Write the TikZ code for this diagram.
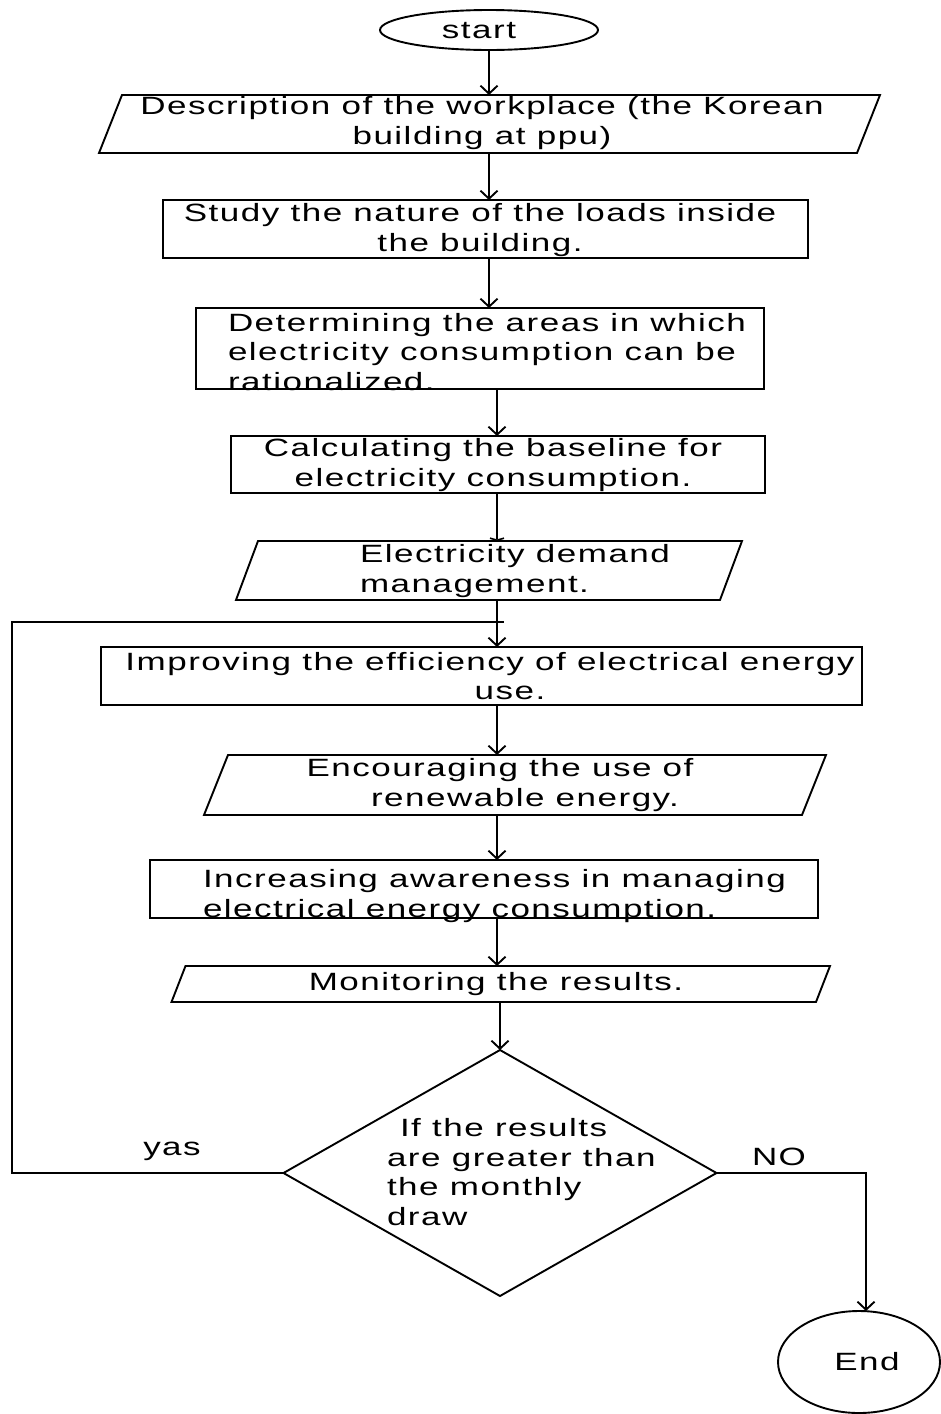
\documentclass[tikz,border=0pt]{standalone}
\usepackage{fontspec}
\newfontfamily\fnt[FakeStretch=1.4,LetterSpace=6]{Liberation Sans}
\usetikzlibrary{arrows.meta,shapes.geometric,calc}
\newcommand\plg[2]{\draw ([xshift=#2]#1.north west) -- ([xshift=#2]#1.north east) -- ([xshift=-#2]#1.south east) -- ([xshift=-#2]#1.south west) -- cycle;}
\begin{document}
\begin{tikzpicture}[x=1pt,y=-1pt,
  line width=1.9pt,
  every node/.style={font=\fnt\fontsize{25}{29.5}\selectfont, inner sep=0pt, outer sep=0pt},
  arr/.style={-{Straight Barb[length=8pt,width=17pt,line width=1.9pt]}},
  flatarr/.style={-{Straight Barb[length=2pt,width=14pt,line width=1.6pt]}},
  boxr/.style={draw, rectangle, minimum width=#1},
  frame/.style={rectangle, minimum width=#1},
  txt/.style={align=center}
]
\useasboundingbox (0,0) rectangle (941,1414);
\fill[white] (0,0) rectangle (941,1414);

% shapes
\node[draw, ellipse, minimum width=218, minimum height=40] (start) at (489,30) {};
\node (tstart) at (479,31) {start};

\node[frame=758, minimum height=58] (p1) at (489.5,124) {};
\plg{p1}{11.5}
\node[txt] (t1) at (482,123) {Description of the workplace (the Korean\\building at ppu)};

\node[boxr=645, minimum height=58] (r2) at (485.5,229) {};
\node[txt] (t2) at (480,230) {Study the nature of the loads inside\\the building.};

\node[boxr=568, minimum height=81] (r3) at (480,348.5) {};
\node[align=left, anchor=west] (t3) at (228,352) {Determining the areas in which\\electricity consumption can be\\rationalized.};

\node[boxr=534, minimum height=57] (r4) at (498,464.5) {};
\node[txt] (t4) at (493,465) {Calculating the baseline for\\electricity consumption.};

\node[frame=484, minimum height=59] (p2) at (489,570.5) {};
\plg{p2}{11}
\node[align=left, anchor=west] (t5) at (360,571) {Electricity demand\\management.};

\node[boxr=761, minimum height=58] (r5) at (481.5,676) {};
\node[txt] (t6) at (490,676) {Improving the efficiency of electrical energy\\\hspace*{40pt}use.};

\node[frame=598, minimum height=60] (p3) at (515,785) {};
\plg{p3}{12}
\node[txt] (t7) at (500,785) {Encouraging the use of\\\hspace*{50pt}renewable energy.};

\node[boxr=668, minimum height=58] (r6) at (484,889) {};
\node[align=left, anchor=west] (t8) at (203,896) {Increasing awareness in managing\\electrical energy consumption.};

\node[frame=644.5, minimum height=36] (p4) at (500.75,984) {};
\plg{p4}{7}
\node (t9) at (496,984) {Monitoring the results.};

\node[draw, diamond, minimum width=433, minimum height=246] (d) at (500,1173) {};
\node[align=left, anchor=west] (td) at (387,1172) {\hspace*{13pt}If the results\\are greater than\\the monthly\\draw};

\node[draw, ellipse, minimum width=162, minimum height=102] (e) at (859,1362) {};
\node (te) at (867,1362) {End};

\node (yas) at (172,1151) {yas};
\node (no) at (779,1157) {NO};

% connectors
\coordinate (xa) at (489,0);
\coordinate (xb) at (497,0);
\draw[arr] (start.south) -- (p1.north -| start.south);
\draw[arr] (p1.south -| xa) -- (r2.north -| xa);
\draw[arr] (r2.south -| xa) -- (r3.north -| xa);
\draw[arr] (r3.south -| xb) -- (r4.north -| xb);
\draw[flatarr] (r4.south -| xb) -- (p2.north -| xb);
\draw[arr] (p2.south -| xb) -- (r5.north -| xb);
\draw[arr] (r5.south -| xb) -- (p3.north -| xb);
\draw[arr] (p3.south -| xb) -- (r6.north -| xb);
\draw[arr] (r6.south -| xb) -- (p4.north -| xb);
\draw[arr] (p4.south -| d.north) -- (d.north);

\coordinate (lc) at (12,0);
\coordinate (lend) at (504,622);
\draw (d.west) -- (lc |- d.west) -- (lc |- lend) -- (lend);

\coordinate (nx) at (866,0);
\draw[arr] (d.east) -- (nx |- d.east) -- (nx |- e.north);
\end{tikzpicture}
\end{document}
